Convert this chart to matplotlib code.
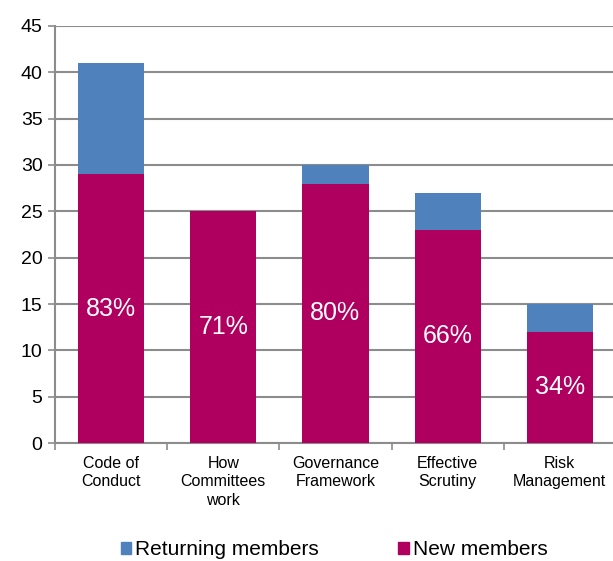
import matplotlib
matplotlib.use("Agg")
import matplotlib.pyplot as plt
from matplotlib.patches import Patch
import numpy as np

categories = ["Code of\nConduct", "How\nCommittees\nwork", "Governance\nFramework",
              "Effective\nScrutiny", "Risk\nManagement"]
new_members = [29, 25, 28, 23, 12]
returning_members = [12, 0, 2, 4, 3]
pct_labels = ["83%", "71%", "80%", "66%", "34%"]

BLUE = "#4F81BD"
MAGENTA = "#B0005F"
GRID = "#8C8C8C"

plt.rcParams["font.family"] = ["Liberation Sans", "DejaVu Sans"]

fig = plt.figure(figsize=(6.13, 5.61), dpi=100)
ax = fig.add_axes([0.0897, 0.2103, 0.915, 0.7434])

x = np.arange(len(categories))
w = 0.59
ax.bar(x, new_members, w, color=MAGENTA, zorder=3)
ax.bar(x, returning_members, w, bottom=new_members, color=BLUE, zorder=3)

for xi, v, lab in zip(x, new_members, pct_labels):
    ax.text(xi, v / 2, lab, ha="center", va="center", color="white", fontsize=18, zorder=4)

ax.set_xlim(-0.5, 4.5)
ax.set_ylim(0, 45)
ax.set_yticks(range(0, 46, 5))
ax.yaxis.grid(True, color=GRID, linewidth=1.5, zorder=0)
ax.set_axisbelow(True)

ax.set_xticks(x)
ax.set_xticklabels(categories, fontsize=11.5, linespacing=1.3)
ax.tick_params(axis="x", length=0, pad=9)
ax.set_xticks(np.arange(-0.5, 4.6, 1), minor=True)
ax.tick_params(axis="x", which="minor", length=5, color=GRID, width=1.2)
ax.tick_params(axis="y", length=5, color=GRID, width=1.2, labelsize=14, pad=4)

for s in ["top", "right"]:
    ax.spines[s].set_visible(False)
for s in ["left", "bottom"]:
    ax.spines[s].set_color(GRID)
    ax.spines[s].set_linewidth(1.5)

handles = [Patch(color=BLUE, label="Returning members"),
           Patch(color=MAGENTA, label="New members")]
fig.legend(handles=handles, loc="center", bbox_to_anchor=(0.545, 0.02), ncol=2,
           frameon=False, fontsize=15, handlelength=0.5, handleheight=0.5,
           handletextpad=0.2, columnspacing=3.8)

fig.savefig("out.png", dpi=100)
